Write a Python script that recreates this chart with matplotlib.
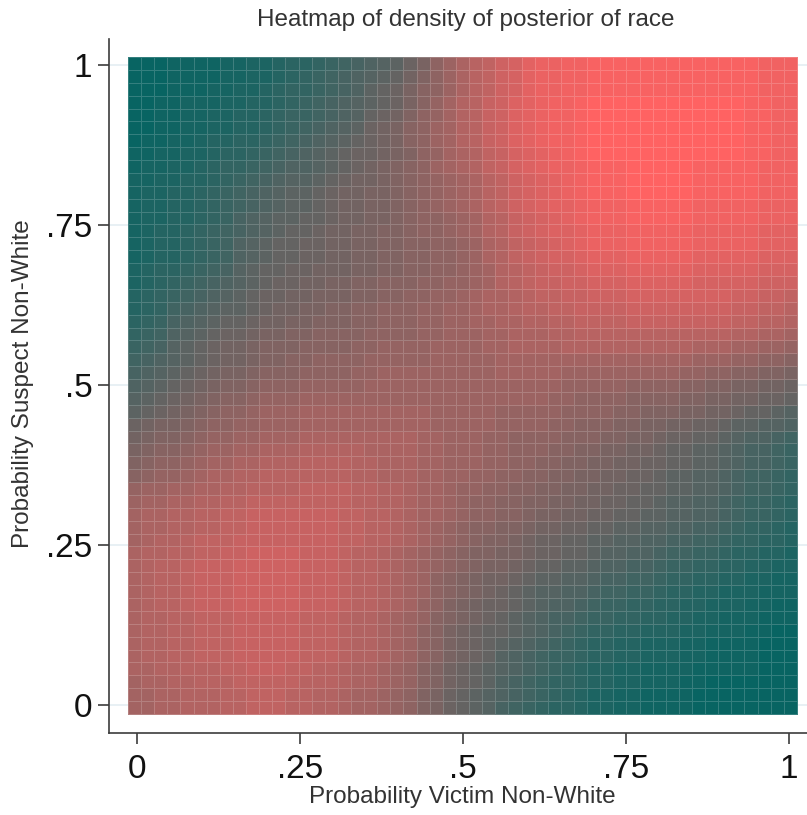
import numpy as np
import matplotlib
matplotlib.use('Agg')
import matplotlib.pyplot as plt
from matplotlib.colors import LinearSegmentedColormap

plt.rcParams['font.family'] = ['Liberation Sans', 'DejaVu Sans']

# Density of the posterior on a 0-35 scale
# (0 = dark teal ... z = brightest red). One string per row, top row
# (suspect = 1) first, victim going 0 -> 1 from left to right.
# Spaces only group the cells by five for reading.
density_rows = [
    "00011 11223 34556 789ab cegjl npqst vwwxx yyyyy yyyyy yyyxx x",
    "00011 11223 34567 89abc dfhjl npqst vwwxx yyyyy yyyyy yyyxx x",
    "00011 12233 45667 89acd egijl npqst vwwxx yyyyy yyyyy yyyxx x",
    "00112 22334 45678 9abcd egikm oprsu vwxxy zzzzz zzzzz zzyyx x",
    "00112 23344 56778 9abde fhjkm oprsu vwxxy zzzzz zzzzz zzyyx x",
    "00112 23344 56789 abcef gijlm oprsu vwxxy zzzzz zzzzz zzyyx x",
    "01122 34455 6789a bcdef gijlm oprsu vwxxy zzzzz zzzzz zzyyx x",
    "11223 34556 789ab cdeef ghjkm noqrt uvwxy zzzzz zzzzz zzyyx x",
    "12233 45667 89aab cdefg hijlm noqrt uvwwx yyyzz zzzyy yyyxx x",
    "22334 45678 9abbc deffg hijkl mnpqs tuvwx yyyzz zzzyy yyyxx x",
    "23344 56789 abccd effgg hijkl mnpqs tuvwx yyyzz zzzyy yyyxx x",
    "23344 56789 abccd effgg hijkl mnpqs tuvvw xxxyy yyyxx xxxww w",
    "23344 5679a bccdd effgg hijjk lmopr stuvw xxxyy yyyxx xxxww w",
    "23445 6789a bcdde ffggh hijjk lmopr stuuv wwwxx xxxww wwwvv v",
    "23445 678ab cddee ffggh hiijj klnoq rstuv wwwxx xxxww wwwvv v",
    "23445 678ab cddee ffggh hiijj klnoq rsttu vvvww wwwvv vvvuu u",
    "34556 789bc ddeef ffggh hiijj klmop qrsst uuuvv vvvuu uuutt t",
    "34567 89abc deeff gghhi iijjk klmop qrrss tttuu uuutt tttss s",
    "45678 9abcd eeffg gghhi ijjkk lmnno pqqrr ssstt ttttt tssrr q",
    "45689 abccd effgg hhiij jjkkl lmnno ppqqr rrrss sssss srrqq p",
    "5679a bcdde ffggh hhiij jjkkl lmmnn ooppq qqqrr rrrrr rqqpp o",
    "678ab cdeef gghhi iiijj jjkkl llmmn nnoop ppppp ppppp poonn m",
    "789bc deffg hhhii iijjk kkkll llmmn nnnoo ooooo ooonn nmmll k",
    "89abc deffg hhiij jjjkk kkkll lllmm mmmmm mmmmm mmmll lkkjj i",
    "9abcd efggh iiijj jjkkl lllll lllmm mmmll lllll llkkj jiihh g",
    "abcde fghhi jjjkk kkkll lllll lllll lllkk kkkjj jjiih hggff e",
    "bcdef ghiij kkkll lllll lllll lllll llkkj jjjii iihhg gffee d",
    "cdefg hijjk lllmm mmmmm mmmll lllkk kkkjj jjiih hhggf feddc b",
    "efggh ijjkk lllmm mmmmm mmmll lllkk kkjji iihhg gffee dccbb a",
    "fghhi jkkll mmmnn nnnnn nnmml llkkj jjjii ihhgg feedd cbaa9 8",
    "ghiij kllmm nnnoo ooonn nnmml llkkj jjiih hggff eddcc ba998 7",
    "hijjk lmmnn ooopp ppoon nnmml llkkj jiihh ggffe eddcc ba998 7",
    "ijkkl mnnoo ppppp ppoon nnmml lkkjj iihhg gffee dccbb a9887 6",
    "kllmm nnoop pppqq qqppo onmml kkjji ihhgg ffeed dccbb a9887 6",
    "lmmnn ooppq qqqqq qqppo onmml kjjii hhggf feedd cbbaa 98776 5",
    "mnnoo ppqqr rrrrr rqqpp onmml kjjii hggff eeddc cbbaa 98776 5",
    "mnnoo ppqqr rrrrr rqqpp onmlk jiihh gffee ddccb baa99 87665 4",
    "mnoop qqqrr rrrrr rqqpp onmlk jihhg feedd ccbba a9988 76655 4",
    "noopp qqrrs sssrr rqppo nmlkj ihhgg feedd cbbaa 98877 65544 3",
    "noppq rrrss sssrr rqppo nmlkj ihggf eddcc baa99 87766 55443 3",
    "noppq rrrss sssrr rqppo nmlji hgffe dccbb a9988 76655 44332 2",
    "noppq rrrss sssrr rqppo nmlji hgfed cbbaa 98877 65544 33322 2",
    "noppq rrrss sssrr rqppo nmkjh gfeed cbaa9 87766 55443 33221 1",
    "noopp qqqrr rrrqq qpoon mlkih gfedc ba998 77665 54433 22211 1",
    "noopp qqqrr rrrqq qpoon mljig feddc ba987 66554 44332 22110 0",
    "noopp qqqrr rrrqq qpoon mljig fedcb a9876 55443 33221 11100 0",
    "noopp qqqrr rrrqq qpoon mljig fedba 98776 55443 33221 11100 0",
    "nnoop ppqqr rrqqp ponnm lkihf edcba 98765 44332 22211 11100 0",
    "mnnoo pppqq qqqpp ponnm lkihf edca9 87665 44332 22110 00000 0",
    "mmnno ooppq qqppo onmml kjhge dcba9 87654 33221 11100 00000 0",
    "mmnno ooppq qqppo onmml kjhge dcb98 76554 33221 11100 00000 0",
]
levels = '0123456789abcdefghijklmnopqrstuvwxyz'

tick_vals = [0, .25, .5, .75, 1]
tick_labels = ['0', '.25', '.5', '.75', '1']

z = np.array([[levels.index(c) for c in row.replace(' ', '')] for row in density_rows])
z = z[::-1]  # bottom row first for pcolormesh

# cell borders of the 51 x 51 bins (Stata pads the outer bins a little)
x_edges = np.linspace(-0.0138, 1.0122, 52)
y_edges = np.linspace(-0.0140, 1.0125, 52)

cmap = LinearSegmentedColormap.from_list('teal_red', ['#086462', '#ff6262'])

fig = plt.figure(figsize=(8.07, 8.15), dpi=100)
ax = fig.add_axes([109/807, 1 - 733/815, (807 - 109)/807, (733 - 39)/815])

ax.pcolormesh(x_edges, y_edges, z, shading='flat', cmap=cmap, vmin=0, vmax=35,
              edgecolors=(1, 1, 1, 0.18), linewidth=0.6, zorder=2)

ax.set_xlim((109 - 137)/652, (807 - 137)/652)
ax.set_ylim((705 - 733)/640, (705 - 39)/640)
ax.set_xticks(tick_vals, tick_labels)
ax.set_yticks(tick_vals, tick_labels)

for s in ['top', 'right']:
    ax.spines[s].set_visible(False)
for s in ['left', 'bottom']:
    ax.spines[s].set_color('#3c3c3c')
    ax.spines[s].set_linewidth(1.2)

ax.tick_params(length=8, width=1.2, color='#3c3c3c', labelsize=24, labelcolor='#111111')
ax.tick_params(axis='x', pad=7)
ax.tick_params(axis='y', pad=4)
ax.yaxis.grid(True, color='#e4edf2', lw=1.2)
ax.set_axisbelow(True)

fig.text(466/807, 1 - 20/815, 'Heatmap of density of posterior of race',
         ha='center', va='center', fontsize=17.5, color='#333333')
fig.text(462/807, 1 - 797/815, 'Probability Victim Non-White',
         ha='center', va='center', fontsize=17.5, color='#333333')
fig.text(23/807, 1 - 384/815, 'Probability Suspect Non-White', rotation=90,
         ha='center', va='center', fontsize=17.5, color='#333333')

fig.savefig('out.png', dpi=100)
